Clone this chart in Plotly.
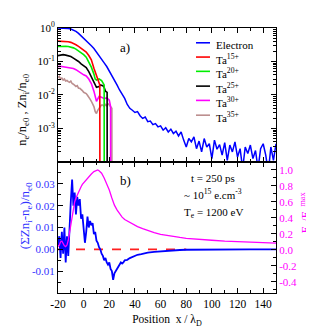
import plotly.graph_objects as go

# ---------------- data: panel a) (densities, log axis) ----------------
electron_x = [-20, -18, -16, -14, -12, -10, -8, -6, -4, -2, 0, 2, 4, 6, 8, 10, 12, 14, 16, 18,
              20, 22, 24, 26, 28, 30, 32, 34, 36, 38, 40, 42, 44, 46, 48, 50, 52, 54, 56, 58,
              60, 62, 64, 66, 68, 70, 72, 74, 76, 78, 80, 82, 84, 86, 88, 90, 92, 94, 96, 98,
              100, 102, 104, 106, 108, 110, 112, 114, 116, 118, 120, 122, 124, 126, 128, 130,
              132, 134, 136, 138, 140, 142, 144, 146, 148, 150]
electron_n = [1.0, 1.0, 1.0, 0.99, 0.966, 0.933, 0.871, 0.794, 0.692, 0.589, 0.49, 0.417, 0.355,
              0.295, 0.245, 0.195, 0.151, 0.117, 0.0912, 0.0708, 0.0525, 0.038, 0.0275, 0.020,
              0.0141, 0.0105, 7.9e-3, 5.2e-3, 4.0e-3, 3.5e-3, 3.0e-3, 3.2e-3, 2.4e-3, 2.0e-3,
              2.2e-3, 1.6e-3, 1.66e-3, 1.3e-3, 1.4e-3, 1.12e-3, 1.2e-3, 8.9e-4, 1.05e-3, 7.9e-4,
              9.5e-4, 7.1e-4, 8.3e-4, 6.0e-4, 7.9e-4, 4.5e-4, 2.8e-4, 5.0e-4, 4.0e-4, 5.6e-4,
              2.5e-4, 4.2e-4, 2.0e-4, 5.0e-4, 2.8e-4, 3.5e-4, 1.26e-4, 4.5e-4, 2.4e-4, 3.3e-4,
              1.6e-4, 3.8e-4, 1.12e-4, 3.2e-4, 2.0e-4, 4.0e-4, 1.4e-4, 2.5e-4, 6.3e-5, 2.8e-4,
              1.8e-4, 3.2e-4, 1.26e-4, 2.2e-4, 6.3e-5, 2.5e-4, 3.5e-4, 1.6e-4, 5.0e-5, 2.8e-4,
              1.12e-4, 3.5e-4]

ta15_x = [-20, -18, -16, -14, -12, -10, -8, -6, -4, -2, 0, 2, 4, 6, 8, 10, 12, 12.6, 12.7]
ta15_n = [0.407, 0.407, 0.407, 0.398, 0.389, 0.372, 0.347, 0.316, 0.282, 0.245, 0.219, 0.191,
          0.151, 0.112, 0.063, 0.0355, 0.0224, 0.02, 1e-6]

ta20_x = [-20, -18, -16, -14, -12, -10, -8, -6, -4, -2, 0, 2, 4, 6, 8, 9, 10, 12, 14, 15, 16, 16.1]
ta20_n = [0.28, 0.285, 0.29, 0.285, 0.28, 0.27, 0.255, 0.235, 0.21, 0.185, 0.16, 0.135, 0.1,
          0.068, 0.042, 0.03, 0.028, 0.03, 0.027, 0.022, 0.02, 1e-6]

ta25_x = [-20, -18, -16, -14, -12, -10, -8, -6, -4, -2, 0, 2, 4, 6, 8, 10, 12, 13, 15, 16, 17,
          18.3, 18.4]
ta25_n = [0.15, 0.155, 0.16, 0.155, 0.148, 0.14, 0.126, 0.115, 0.1, 0.085, 0.075, 0.066, 0.05,
          0.035, 0.022, 0.017, 0.018, 0.02, 0.019, 0.017, 0.013, 0.012, 1e-6]

ta30_x = [-20, -18, -16, -14, -12, -10, -8, -6, -4, -2, 0, 2, 4, 6, 8, 10, 11, 12, 14, 16, 18,
          20, 21, 21.1]
ta30_n = [0.07, 0.072, 0.07, 0.068, 0.066, 0.064, 0.062, 0.057, 0.05, 0.044, 0.04, 0.037, 0.03,
          0.022, 0.013, 0.0065, 0.0075, 0.009, 0.0085, 0.0078, 0.0082, 0.007, 0.0045, 1e-6]

ta35_x = [-20, -19, -18, -17, -16, -15, -14, -13, -12, -11, -10, -9, -8, -7, -6, -5, -4, -3, -2,
          -1, 0, 1, 2, 3, 4, 5, 6, 7, 8, 9, 10, 11, 12, 13, 14, 15, 16, 17, 18, 19, 20, 21, 22,
          22.1]
ta35_n = [0.033, 0.036, 0.03, 0.032, 0.028, 0.03, 0.026, 0.027, 0.025, 0.024, 0.026, 0.022,
          0.021, 0.02, 0.018, 0.019, 0.016, 0.0158, 0.014, 0.0135, 0.012, 0.0115, 0.011, 0.0098,
          0.0088, 0.0075, 0.0065, 0.0056, 0.0045, 0.0032, 0.0028, 0.0035, 0.0042, 0.0045, 0.005,
          0.005, 0.0045, 0.0052, 0.0048, 0.0055, 0.005, 0.0046, 0.004, 1e-6]

# ---------------- data: panel b) ----------------
charge_x = [-20, -19, -18, -17, -16, -15, -14, -13, -12, -11, -10, -9, -8, -7, -6, -5, -4, -3,
            -2, -1, 0, 1, 2, 3, 4, 5, 6, 7, 8, 9, 10, 11, 12, 13, 14, 15, 16, 17, 18, 19, 20,
            21, 22, 23, 24, 25, 26, 27, 28, 29, 30, 31, 32, 34, 36, 38, 40, 42, 45, 50, 55,
            60, 65, 70, 75, 80, 90, 100, 110, 120, 130, 140, 150]
charge_v = [0.002, 0.006, -0.004, 0.008, -0.002, 0.010, -0.006, 0.006, -0.003, 0.012, 0.022,
            0.032, 0.020, 0.026, 0.016, 0.024, 0.020, 0.023, 0.014, 0.016, 0.010, 0.003, 0.008,
            0.015, 0.010, 0.013, 0.011, 0.012, 0.007, 0.008, 0.004, 0.003, 0.001, 0.000,
            -0.002, -0.003, -0.005, -0.004, -0.006, -0.007, -0.006, -0.009, -0.010, -0.014,
            -0.011, -0.010, -0.009, -0.008, -0.007, -0.006, -0.0065, -0.006, -0.005, -0.0048,
            -0.0040, -0.0035, -0.0030, -0.0025, -0.0022, -0.0015, -0.0012, -0.0009, -0.0007,
            -0.0005, -0.0003, -0.0002, -0.0001, -0.0001, 0.0, 0.0, 0.0, 0.0, 0.0]

efield_x = [-20, -19, -18, -17, -16, -15, -14, -13, -12, -11, -10, -9, -8, -7, -6, -5, -4, -3,
            -2, -1, 0, 2, 4, 6, 8, 10, 11, 12, 14, 16, 18, 20, 22, 24, 26, 28, 30, 32, 35, 38,
            42, 46, 50, 55, 60, 65, 70, 75, 80, 85, 90, 100, 110, 120, 130, 140, 150]
efield_v = [0.04, 0.06, 0.10, 0.11, 0.08, 0.05, 0.04, 0.06, 0.12, 0.22, 0.34, 0.45, 0.54, 0.60,
            0.65, 0.69, 0.72, 0.76, 0.79, 0.82, 0.84, 0.88, 0.92, 0.95, 0.98, 1.0, 1.0, 0.99,
            0.96, 0.90, 0.83, 0.75, 0.65, 0.56, 0.50, 0.45, 0.41, 0.38, 0.35, 0.32, 0.29, 0.265,
            0.24, 0.215, 0.195, 0.18, 0.165, 0.155, 0.145, 0.137, 0.13, 0.12, 0.11, 0.102, 0.095,
            0.09, 0.085]

zero_x = [-20, 80]
zero_v = [0, 0]

series_names = ["Electron", "Ta<sup>15+</sup>", "Ta<sup>20+</sup>", "Ta<sup>25+</sup>",
                "Ta<sup>30+</sup>", "Ta<sup>35+</sup>"]
series_colors = ["#0000ff", "#ff0000", "#00ee00", "#000000", "#ff00ff", "#bc8f8f"]

log_tickvals = [1, 0.1, 0.01, 0.001]
log_ticktext = ["10<sup>0</sup>", "10<sup>-1</sup>", "10<sup>-2</sup>", "10<sup>-3</sup>"]
left_tickvals = [-0.01, 0.0, 0.01, 0.02, 0.03]
left_ticktext = ["-0.01", "0.00", "0.01", "0.02", "0.03"]
right_tickvals = [-0.4, -0.2, 0.0, 0.2, 0.4, 0.6, 0.8, 1.0]
right_ticktext = ["-0.4", "-0.2", "0.0", "0.2", "0.4", "0.6", "0.8", "1.0"]
x_tickvals = [-20, 0, 20, 40, 60, 80, 100, 120, 140]
x_ticktext = ["-20", "0", "20", "40", "60", "80", "100", "120", "140"]

FONT = "Liberation Serif"
W, H = 314, 336
L, R, T, B = 50, 46, 16, 51
PW, PH = W - L - R, H - T - B


def px_x(p):
    return (p - L) / PW


def px_y(p):
    return (H - B - p) / PH


split = px_y(152)

fig = go.Figure()
top_series = [(electron_x, electron_n), (ta15_x, ta15_n), (ta20_x, ta20_n),
              (ta25_x, ta25_n), (ta30_x, ta30_n), (ta35_x, ta35_n)]
for i in [5, 4, 3, 2, 1, 0]:
    xs, ys = top_series[i]
    fig.add_trace(go.Scatter(x=xs, y=ys, mode="lines", name=series_names[i],
                             line=dict(color=series_colors[i], width=1.6 if i else 1.5),
                             xaxis="x", yaxis="y", showlegend=False))

fig.add_trace(go.Scatter(x=zero_x, y=zero_v, mode="lines", line=dict(color="#ff2020", width=1.6, dash="dash"),
                         xaxis="x2", yaxis="y2", showlegend=False))
fig.add_trace(go.Scatter(x=efield_x, y=efield_v, mode="lines", line=dict(color="#ff00ff", width=1.3),
                         xaxis="x2", yaxis="y3", showlegend=False))
fig.add_trace(go.Scatter(x=charge_x, y=charge_v, mode="lines", line=dict(color="#0000ff", width=1.8),
                         xaxis="x2", yaxis="y2", showlegend=False))

axis_common = dict(showline=True, linecolor="black", linewidth=1, ticks="inside",
                   tickcolor="black", showgrid=False, zeroline=False)

fig.update_layout(
    width=W, height=H, margin=dict(l=L, r=R, t=T, b=B),
    paper_bgcolor="white", plot_bgcolor="white",
    font=dict(family=FONT, size=11, color="black"),
    xaxis=dict(domain=[0, 1], anchor="y", range=[-20, 150], tickmode="array",
               tickvals=x_tickvals, ticklen=5, showticklabels=False, mirror="ticks",
               minor=dict(ticks="inside", dtick=10, tick0=0, ticklen=3, tickcolor="black"),
               **axis_common),
    yaxis=dict(domain=[split, 1], anchor="x", type="log", range=[-4, 0],
               tickmode="array", tickvals=log_tickvals, ticktext=log_ticktext, ticklen=5,
               mirror="ticks", tickfont=dict(family=FONT, size=11),
               minor=dict(ticks="inside", dtick="D1", ticklen=3, tickcolor="black"),
               **axis_common),
    xaxis2=dict(domain=[0, 1], anchor="y2", range=[-20, 150], tickmode="array",
                tickvals=x_tickvals, ticktext=x_ticktext, ticklen=5,
                mirror="ticks", tickfont=dict(family=FONT, size=11.5),
                minor=dict(ticks="inside", dtick=10, tick0=0, ticklen=3, tickcolor="black"),
                title=dict(text="Position  x / λ<sub>D</sub>", font=dict(family=FONT, size=11.5),
                           standoff=6),
                **axis_common),
    yaxis2=dict(domain=[0, split], anchor="x2", range=[-0.02, 0.04], tickmode="array",
                tickvals=left_tickvals, ticktext=left_ticktext, ticklen=5,
                tickfont=dict(family=FONT, size=11, color="#3333ff"),
                minor=dict(ticks="inside", dtick=0.005, tick0=0, ticklen=3, tickcolor="black"),
                **axis_common),
    yaxis3=dict(domain=[0, split], anchor="x2", overlaying="y2", side="right",
                range=[-0.54, 1.1], tickmode="array", tickvals=right_tickvals,
                ticktext=right_ticktext, ticklen=5,
                tickfont=dict(family=FONT, size=11, color="#ff00ff"),
                minor=dict(ticks="inside", dtick=0.1, tick0=0, ticklen=3, tickcolor="black"),
                **axis_common),
)

annotations = []
shapes = []
legend_rows_py = [31, 45.5, 60, 75, 89.5, 104.5]
for name, color, py in zip(series_names, series_colors, legend_rows_py):
    shapes.append(dict(type="line", xref="paper", yref="paper", x0=px_x(188), x1=px_x(202),
                       y0=px_y(py), y1=px_y(py), line=dict(color=color, width=1.6)))
    annotations.append(dict(text=name, xref="paper", yref="paper", x=px_x(206), y=px_y(py + 2),
                            xanchor="left", yanchor="middle", showarrow=False,
                            font=dict(family=FONT, size=11, color="black")))

extra = [
    dict(text="a)", x=px_x(117), y=px_y(36), font=dict(family=FONT, size=13)),
    dict(text="b)", x=px_x(117), y=px_y(171), font=dict(family=FONT, size=13)),
    dict(text="t = 250 ps", x=px_x(205), y=px_y(168), font=dict(family=FONT, size=11)),
    dict(text="~ 10<sup>15</sup> e.cm<sup>-3</sup>", x=px_x(205), y=px_y(185),
         font=dict(family=FONT, size=11)),
    dict(text="T<sub>e</sub> = 1200 eV", x=px_x(205), y=px_y(204), font=dict(family=FONT, size=11)),
    # axis titles
    dict(text="n<sub>e</sub>/n<sub>e0</sub> , Zn<sub>i</sub>/n<sub>e0</sub>",
         x=px_x(15), y=px_y(99), textangle=-90, font=dict(family=FONT, size=12.5)),
    dict(text="(ΣZn<sub>i</sub>-n<sub>e</sub>)/n<sub>e0</sub>",
         x=px_x(17), y=px_y(207), textangle=-90, font=dict(family=FONT, size=13, color="#3333ff")),
    dict(text="E<sub>x</sub>/E<sub>x</sub><sup>max</sup>",
         x=px_x(298), y=px_y(203), textangle=-90, font=dict(family=FONT, size=12, color="#ff00ff")),
]
for a in extra:
    a.update(xref="paper", yref="paper", xanchor="center", yanchor="middle", showarrow=False)
annotations += extra

fig.update_layout(annotations=annotations, shapes=shapes)
fig.write_html("out.html")
